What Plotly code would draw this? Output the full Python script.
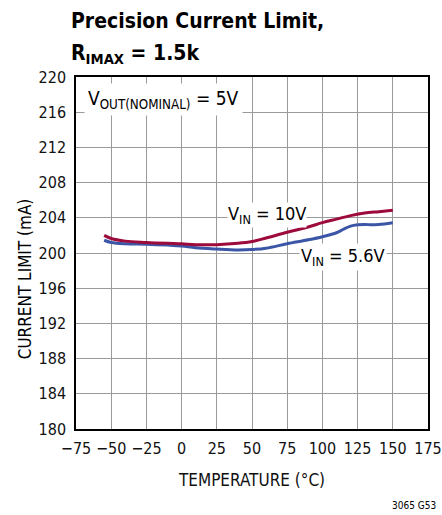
import plotly.graph_objects as go

temp_10v = [-55, -50, -40, -25, -10, 0, 10, 25, 40, 50, 60, 75, 90, 100, 110, 120, 130, 140, 150]
ilim_10v = [202.0, 201.65, 201.35, 201.2, 201.1, 201.05, 200.95, 200.95, 201.1, 201.3, 201.7, 202.35,
            202.95, 203.45, 203.85, 204.25, 204.55, 204.7, 204.85]

temp_56v = [-55, -50, -40, -25, -10, 0, 10, 25, 40, 50, 60, 75, 90, 100, 110, 115, 120, 125, 130, 135, 140, 150]
ilim_56v = [201.45, 201.2, 201.05, 201.0, 200.9, 200.8, 200.6, 200.45, 200.35, 200.4, 200.55, 201.05,
            201.5, 201.85, 202.3, 202.7, 203.05, 203.2, 203.25, 203.2, 203.25, 203.45]

x_ticks = [-75, -50, -25, 0, 25, 50, 75, 100, 125, 150, 175]
y_ticks = [180, 184, 188, 192, 196, 200, 204, 208, 212, 216, 220]

FONT = "DejaVu Sans Condensed, Liberation Sans Narrow, sans-serif"

fig = go.Figure()
fig.add_trace(go.Scatter(x=temp_56v, y=ilim_56v, mode="lines",
                         line=dict(color="#3B56A6", width=3, shape="spline"), showlegend=False))
fig.add_trace(go.Scatter(x=temp_10v, y=ilim_10v, mode="lines",
                         line=dict(color="#9C0B3B", width=3, shape="spline"), showlegend=False))

fig.update_layout(
    width=442, height=515,
    margin=dict(l=76, r=14, t=77, b=86),
    paper_bgcolor="white", plot_bgcolor="white",
    font=dict(family=FONT, size=16, color="#111"),
    xaxis=dict(range=[-75, 175], tickvals=x_ticks, ticktext=[str(v).replace("-", "\u2212") for v in x_ticks],
               showgrid=True, gridcolor="#9a9a9a", gridwidth=1, automargin=False,
               showline=True, linecolor="black", linewidth=1.5, mirror=True,
               zeroline=False, ticks="", ticklabelstandoff=4,
               title=dict(text="TEMPERATURE (°C)", standoff=17, font=dict(size=17))),
    yaxis=dict(range=[180, 220], tickvals=y_ticks, automargin=False,
               showgrid=True, gridcolor="#9a9a9a", gridwidth=1,
               showline=True, linecolor="black", linewidth=1.5, mirror=True,
               zeroline=False, ticks="", ticklabelstandoff=5),
)

fig.add_annotation(xref="paper", yref="paper", x=-0.145, y=0.428, textangle=-90,
                   xanchor="center", yanchor="middle", text="CURRENT LIMIT (mA)", showarrow=False,
                   font=dict(size=17, family=FONT, color="black"))
fig.add_annotation(xref="paper", yref="paper", x=-0.02, y=1.159, xanchor="left", yanchor="middle",
                   text="<b>Precision Current Limit,</b>", showarrow=False,
                   font=dict(size=21, family=FONT, color="black"))
fig.add_annotation(xref="paper", yref="paper", x=-0.02, y=1.065, xanchor="left", yanchor="middle",
                   text="<b>R<sub>IMAX</sub> = 1.5k</b>", showarrow=False,
                   font=dict(size=21, family=FONT, color="black"))
fig.add_annotation(x=-12.9, y=217.4, text="V<sub>OUT(NOMINAL)</sub> = 5V", showarrow=False,
                   bgcolor="white", borderpad=3, font=dict(size=19, family=FONT, color="black"))
fig.add_annotation(x=61, y=204.35, text="V<sub>IN</sub> = 10V", showarrow=False,
                   bgcolor="white", borderpad=0, font=dict(size=18, family=FONT, color="black"))
fig.add_annotation(x=114.5, y=199.5, text="V<sub>IN</sub> = 5.6V", showarrow=False,
                   bgcolor="white", borderpad=1, font=dict(size=18, family=FONT, color="black"))
fig.add_annotation(xref="paper", yref="paper", x=1.028, y=-0.216, xanchor="right", yanchor="middle",
                   text="3065 G53", showarrow=False, font=dict(size=10, family=FONT, color="black"))

fig.write_html("out.html", config={"displayModeBar": False},
               post_script="document.body.style.margin='0';document.body.style.overflow='hidden';")
